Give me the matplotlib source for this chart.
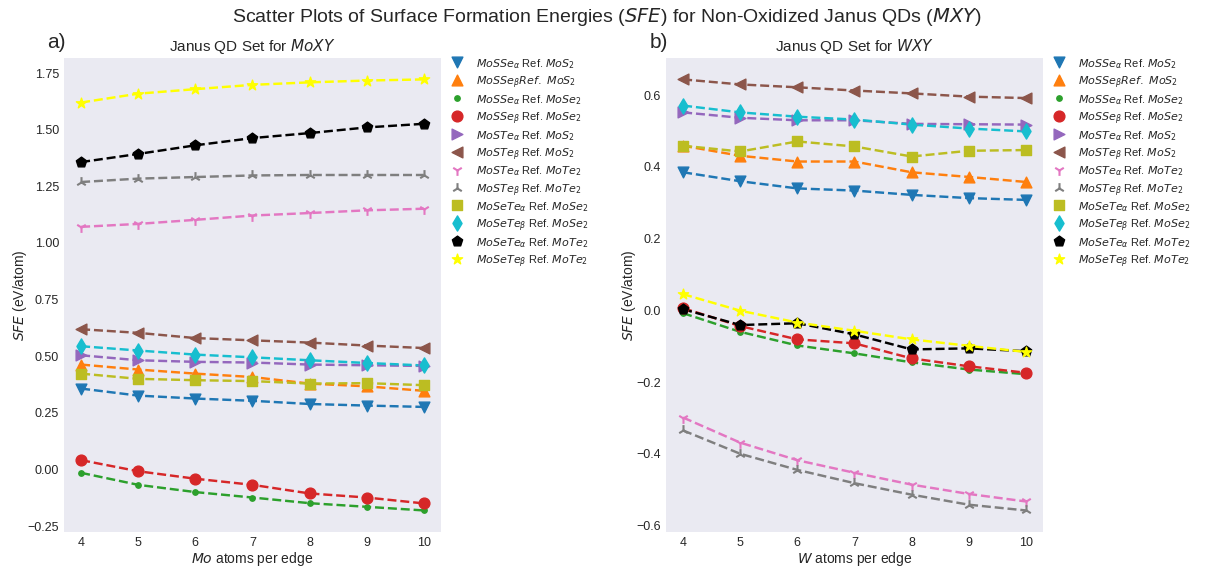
import numpy as np
import matplotlib
matplotlib.use("Agg")
import matplotlib.pyplot as plt

# =============================================================================
# Data
# =============================================================================
edge = [4, 5, 6, 7, 8, 9, 10]

labels = [r"$MoSSe_{\alpha}$ Ref. $MoS_2$",
          r"$MoSSe_{\beta} Ref.\ MoS_2$",
          r"$MoSSe_{\alpha}$ Ref. $MoSe_2$",
          r"$MoSSe_{\beta}$ Ref. $MoSe_2$",
          r"$MoSTe_{\alpha}$ Ref. $MoS_2$",
          r"$MoSTe_{\beta}$ Ref. $MoS_2$",
          r"$MoSTe_{\alpha}$ Ref. $MoTe_2$",
          r"$MoSTe_{\beta}$ Ref. $MoTe_2$",
          r"$MoSeTe_{\alpha}$ Ref. $MoSe_2$",
          r"$MoSeTe_{\beta}$ Ref. $MoSe_2$",
          r"$MoSeTe_{\alpha}$ Ref. $MoTe_2$",
          r"$MoSeTe_{\beta}$ Ref. $MoTe_2$"]

markers = ["v", "^", ".", "o", ">", "<", "1", "2", "s", "d", "p", "*"]
colors = ["tab:blue", "tab:orange", "tab:green", "tab:red", "tab:purple",
          "tab:brown", "tab:pink", "tab:gray", "tab:olive", "tab:cyan",
          "black", "yellow"]

# MoXY set
mo_sse_a_mos2 = [0.357, 0.326, 0.313, 0.303, 0.289, 0.282, 0.276]
mo_sse_b_mos2 = [0.463, 0.441, 0.423, 0.408, 0.379, 0.367, 0.347]
mo_sse_a_mose2 = [-0.015, -0.068, -0.100, -0.124, -0.149, -0.165, -0.181]
mo_sse_b_mose2 = [0.041, -0.008, -0.041, -0.068, -0.106, -0.124, -0.150]
mo_ste_a_mos2 = [0.504, 0.482, 0.475, 0.472, 0.463, 0.460, 0.457]
mo_ste_b_mos2 = [0.619, 0.603, 0.580, 0.570, 0.560, 0.547, 0.536]
mo_ste_a_mote2 = [1.071, 1.084, 1.102, 1.121, 1.132, 1.144, 1.151]
mo_ste_b_mote2 = [1.269, 1.284, 1.291, 1.298, 1.300, 1.300, 1.300]
mo_sete_a_mose2 = [0.423, 0.400, 0.394, 0.390, 0.379, 0.381, 0.372]
mo_sete_b_mose2 = [0.544, 0.525, 0.507, 0.495, 0.482, 0.470, 0.459]
mo_sete_a_mote2 = [1.357, 1.393, 1.431, 1.463, 1.485, 1.510, 1.526]
mo_sete_b_mote2 = [1.620, 1.659, 1.679, 1.698, 1.709, 1.717, 1.722]

# WXY set
w_sse_a_mos2 = [0.385, 0.360, 0.340, 0.334, 0.322, 0.313, 0.308]
w_sse_b_mos2 = [0.459, 0.431, 0.415, 0.415, 0.385, 0.372, 0.358]
w_sse_a_mose2 = [-0.008, -0.060, -0.098, -0.120, -0.145, -0.165, -0.178]
w_sse_b_mose2 = [0.006, -0.044, -0.081, -0.092, -0.134, -0.156, -0.174]
w_ste_a_mos2 = [0.552, 0.537, 0.530, 0.530, 0.520, 0.519, 0.518]
w_ste_b_mos2 = [0.644, 0.630, 0.622, 0.613, 0.605, 0.596, 0.592]
w_ste_a_mote2 = [-0.299, -0.369, -0.418, -0.453, -0.486, -0.512, -0.533]
w_ste_b_mote2 = [-0.335, -0.400, -0.445, -0.482, -0.514, -0.542, -0.558]
w_sete_a_mose2 = [0.459, 0.443, 0.471, 0.457, 0.429, 0.445, 0.447]
w_sete_b_mose2 = [0.571, 0.552, 0.540, 0.532, 0.518, 0.507, 0.499]
w_sete_a_mote2 = [0.003, -0.041, -0.036, -0.067, -0.109, -0.106, -0.114]
w_sete_b_mote2 = [0.045, -0.001, -0.034, -0.057, -0.081, -0.099, -0.116]

mo_sets = [mo_sse_a_mos2, mo_sse_b_mos2, mo_sse_a_mose2, mo_sse_b_mose2,
           mo_ste_a_mos2, mo_ste_b_mos2, mo_ste_a_mote2, mo_ste_b_mote2,
           mo_sete_a_mose2, mo_sete_b_mose2, mo_sete_a_mote2, mo_sete_b_mote2]
w_sets = [w_sse_a_mos2, w_sse_b_mos2, w_sse_a_mose2, w_sse_b_mose2,
          w_ste_a_mos2, w_ste_b_mos2, w_ste_a_mote2, w_ste_b_mote2,
          w_sete_a_mose2, w_sete_b_mose2, w_sete_a_mote2, w_sete_b_mote2]

# =============================================================================
# Plot
# =============================================================================
plt.style.use("seaborn-v0_8-dark")
plt.rcParams['font.family'] = ['Liberation Sans', 'DejaVu Sans']

fig = plt.figure(figsize=(12.14, 5.74), dpi=100)
ax1 = fig.add_axes([0.0527, 0.0732, 0.3105, 0.826])
ax2 = fig.add_axes([0.5486, 0.0732, 0.3105, 0.826])


def draw_panel(ax, sets, metal, tag):
    handles = []
    for vals, m, c in zip(sets, markers, colors):
        ax.plot(edge, vals, '--', color=c, lw=1.75)
        handles.append(ax.scatter(edge, vals, marker=m, color=c, s=60,
                                  zorder=3))
    ax.set_title("Janus QD Set for $" + metal + "XY$", fontsize=11, pad=5)
    ax.set_xlabel("$" + metal + "$ atoms per edge", fontsize=10, labelpad=1)
    ax.set_ylabel("$SFE$ (eV/atom)", fontsize=10, labelpad=-1)
    ax.tick_params(labelsize=9)
    ax.text(0.005, 1.012, tag, transform=ax.transAxes, fontsize=15,
            ha='right', va='bottom')
    # legend rows get uneven heights from the mathtext descents, so the
    # legend only holds the markers and the labels are put next to them
    leg = ax.legend(handles, [""] * len(handles), loc='upper left',
                    bbox_to_anchor=(1.003, 1.005), fontsize=8, frameon=False,
                    scatterpoints=1, scatteryoffsets=[0.5],
                    borderaxespad=0.0, borderpad=0.3, handleheight=2.1,
                    labelspacing=0.0, handletextpad=0.0)
    return leg


legs = [draw_panel(ax1, mo_sets, "Mo", "a)"),
        draw_panel(ax2, w_sets, "W", "b)")]

fig.suptitle("Scatter Plots of Surface Formation Energies ($SFE$) for "
             "Non-Oxidized Janus QDs ($MXY$)", fontsize=14, y=0.99)

fig.canvas.draw()
inv = fig.transFigure.inverted()
for leg in legs:
    for h, lab in zip(leg.legend_handles, labels):
        px, py = h.get_offset_transform().transform(h.get_offsets())[0]
        fx, fy = inv.transform((px + 19, py))
        fig.text(fx, fy, lab, fontsize=8, ha='left', va='center_baseline')

fig.savefig("out.png", dpi=100)
